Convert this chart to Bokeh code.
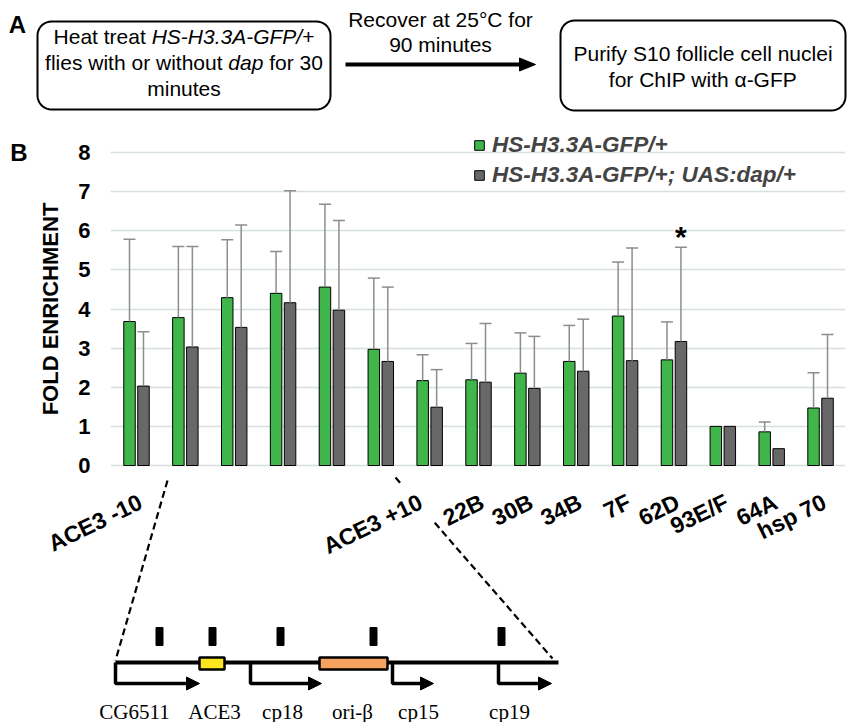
import numpy as np
from bokeh.plotting import figure
from bokeh.models import (ColumnDataSource, Range1d, FixedTicker, Whisker, TeeHead,
                          Legend, LegendItem)
from bokeh.transform import dodge
from bokeh.core.properties import value
from bokeh.embed import file_html
from bokeh.resources import INLINE

# ---------------- data ----------------
tick_labels = ["ACE3 -10", "", "", "", "", "", "ACE3 +10", "22B", "30B", "34B",
               "7F", "62D", "93E/F", "64A", "hsp 70"]
gfp = [3.68, 3.78, 4.29, 4.40, 4.56, 2.97, 2.17, 2.19, 2.36, 2.66, 3.82, 2.70, 1.00, 0.86, 1.47]
gfp_err = [2.10, 1.82, 1.48, 1.07, 2.12, 1.82, 0.66, 0.93, 1.03, 0.92, 1.38, 0.97, 0.00, 0.25, 0.90]
dap = [2.03, 3.03, 3.53, 4.16, 3.97, 2.66, 1.49, 2.13, 1.97, 2.41, 2.68, 3.17, 1.00, 0.43, 1.72]
dap_err = [1.39, 2.57, 2.62, 2.86, 2.29, 1.90, 0.96, 1.50, 1.33, 1.33, 2.88, 2.41, 0.00, 0.00, 1.63]
series_names = ["HS-H3.3A-GFP/+", "HS-H3.3A-GFP/+; UAS:dap/+"]
star_label = "62D"
y_ticks = [0, 1, 2, 3, 4, 5, 6, 7, 8]
y_title = "FOLD ENRICHMENT"
gene_names = ["CG6511", "ACE3", "cp18", "ori-\u03b2", "cp15", "cp19"]

# ---------------- layout / style ----------------
W, H = 850, 722
LB, RB = 110, 5
GRP0, GRP_STEP = 136.0, 48.86   # canvas px of group 1 and spacing
Y0, Y_UNIT = 465.0, 39.125      # canvas px of value 0 and px per unit
fl, fr = LB, W - RB

def kx(r):
    return 1 + (r - GRP0) / GRP_STEP

def vy(r):
    return (Y0 - r) / Y_UNIT

GREEN = "#3fb54a"
GRAY = "#686868"
ERR = "#8d8d8d"
GRID = "#d6e0df"
SANS = "Liberation Sans"
SERIF = "Liberation Serif"

p = figure(width=W, height=H, output_backend="svg", toolbar_location=None,
           x_range=Range1d(kx(fl), kx(fr)), y_range=Range1d(vy(H), vy(0)),
           x_axis_location=None, min_border_left=LB, min_border_right=RB,
           min_border_top=0, min_border_bottom=0)
p.extra_x_ranges = {"px": Range1d(fl, fr)}
p.extra_y_ranges = {"py": Range1d(H, 0)}
p.outline_line_color = None
p.background_fill_color = "white"
p.border_fill_color = "white"
p.xgrid.grid_line_color = None
p.yaxis.ticker = FixedTicker(ticks=y_ticks)
p.ygrid.grid_line_color = GRID
p.ygrid.grid_line_width = 1.5
p.yaxis.axis_line_color = None
p.yaxis.major_tick_line_color = None
p.yaxis.minor_tick_line_color = None
p.yaxis.major_tick_out = 0
p.yaxis.major_label_standoff = 20
p.yaxis.major_label_text_font = SANS
p.yaxis.major_label_text_font_size = "22px"
p.yaxis.major_label_text_font_style = "bold"
p.yaxis.major_label_text_color = "black"

PX = dict(x_range_name="px", y_range_name="py", level="overlay")

# ---------------- bars ----------------
xs = list(range(1, len(tick_labels) + 1))
src = ColumnDataSource(dict(x=xs, gfp=gfp, dap=dap))
OFF, BW = 0.143, 0.235
r1 = p.vbar(x=dodge("x", -OFF), top="gfp", width=BW, source=src,
            fill_color=GREEN, line_color="black", line_width=1)
r2 = p.vbar(x=dodge("x", OFF), top="dap", width=BW, source=src,
            fill_color=GRAY, line_color="black", line_width=1)

wb, wl, wu = [], [], []
for i, x in enumerate(xs):
    if gfp_err[i] > 0:
        wb.append(x - OFF); wl.append(gfp[i]); wu.append(gfp[i] + gfp_err[i])
    if dap_err[i] > 0:
        wb.append(x + OFF); wl.append(dap[i]); wu.append(dap[i] + dap_err[i])
wsrc = ColumnDataSource(dict(base=wb, lower=wl, upper=wu))
p.add_layout(Whisker(base="base", lower="lower", upper="upper", source=wsrc,
                     dimension="height", line_color=ERR, line_width=1.5,
                     upper_head=TeeHead(size=12, line_color=ERR, line_width=1.5),
                     lower_head=None, level="glyph"))

si = tick_labels.index(star_label)
p.text(x=[xs[si] + OFF], y=[dap[si] + dap_err[si]], text=["*"], y_offset=-11,
       text_font=value(SANS), text_font_size="30px", text_font_style="bold",
       text_align="center", text_baseline="middle", text_color="black")

# legend
legend = Legend(items=[LegendItem(label=series_names[0], renderers=[r1]),
                       LegendItem(label=series_names[1], renderers=[r2])],
                location=(473 - fl, H - 187.5),
                label_text_font=SANS, label_text_font_style="bold italic",
                label_text_font_size="22.5px", glyph_width=12, glyph_height=12,
                label_standoff=7, spacing=4, padding=0, margin=0,
                border_line_color=None, background_fill_alpha=0, label_height=20)
p.add_layout(legend)

# category labels (rotated)
lab_dx = {"ACE3 +10": -9}
cx, ctext, cdx = [], [], []
for i, t in enumerate(tick_labels):
    if t:
        cx.append(xs[i]); ctext.append(t); cdx.append(lab_dx.get(t, 4))
p.text(x=cx, y=[vy(500)] * len(cx), text=ctext, x_offset=cdx, angle=0.454,
       text_font=value(SANS), text_font_size="23px", text_font_style="bold",
       text_align="right", text_baseline="middle", text_color="black", level="overlay")

# axis title and panel letters
p.text(x=[50], y=[308.5], text=[y_title], angle=np.pi / 2, text_font=value(SANS),
       text_font_size="22px", text_font_style="bold", text_align="center",
       text_baseline="middle", text_color="black", **PX)
p.text(x=[18.5, 17], y=[151.5, 24], text=["B", "A"], text_font=value(SANS),
       text_font_size="24px", text_font_style="bold", text_align="center",
       text_baseline="middle", text_color="black", **PX)

# ---------------- panel A ----------------
AW = {' ': 278, 'H': 722, 'e': 556, 'a': 556, 't': 278, 'r': 333, 'S': 667, '-': 333,
      '3': 556, '.': 278, 'A': 667, 'G': 778, 'F': 611, 'P': 667, '/': 278, '+': 584,
      'f': 278, 'l': 222, 'i': 222, 's': 500, 'w': 722, 'h': 556, 'o': 556, 'u': 556,
      'd': 556, 'p': 556, '0': 556, 'm': 833, 'n': 556}
FS = 21

def tw(s):
    return sum(AW.get(c, 556) for c in s) * FS / 1000.0

def rrect(x0, y0, x1, y1, r, n=10):
    px_, py_ = [], []
    for (ccx, ccy, a0) in [(x0 + r, y0 + r, np.pi), (x1 - r, y0 + r, 1.5 * np.pi),
                           (x1 - r, y1 - r, 0.0), (x0 + r, y1 - r, 0.5 * np.pi)]:
        t = np.linspace(a0, a0 + np.pi / 2, n)
        px_ += list(ccx + r * np.cos(t)); py_ += list(ccy + r * np.sin(t))
    return px_, py_

for (x0, y0, x1, y1) in [(37, 21, 330, 109), (560, 20, 845, 110)]:
    bx, by = rrect(x0, y0, x1, y1, 14)
    p.patch(bx, by, fill_color="white", line_color="black", line_width=2, **PX)

def rich_line(segs, cxr, yr):
    total = sum(tw(s) for s, _ in segs)
    x = cxr - total / 2
    for s, st in segs:
        lead = len(s) - len(s.lstrip())
        p.text(x=[x + tw(" " * lead)], y=[yr], text=[s.strip()], text_font=value(SANS),
               text_font_size=f"{FS}px", text_font_style=st, text_align="left",
               text_baseline="middle", text_color="black", **PX)
        x += tw(s)

rich_line([("Heat treat ", "normal"), ("HS-H3.3A-GFP/", "italic"), ("+", "normal")], 183.5, 36)
rich_line([("flies with or without ", "normal"), ("dap", "italic"), (" for 30", "normal")], 183.5, 62)
rich_line([("minutes", "normal")], 183.5, 88)
p.text(x=[440, 440, 702.5, 702.5], y=[19, 44, 53, 79],
       text=["Recover at 25\u00b0C for", "90 minutes", "Purify S10 follicle cell nuclei",
             "for ChIP with \u03b1-GFP"],
       text_font=value(SANS), text_font_size=f"{FS}px", text_align="center",
       text_baseline="middle", text_color="black", **PX)
p.line(x=[345, 522], y=[64, 64], line_color="black", line_width=4, **PX)
p.patch(x=[519, 535, 519], y=[57.5, 64, 70.5], fill_color="black", line_color="black", **PX)

# ---------------- gene diagram ----------------
LINE_Y, ARR_Y = 662, 683
p.line(x=[115, 558], y=[LINE_Y, LINE_Y], line_color="black", line_width=4, **PX)
primers = [159, 212, 280, 373, 501]
p.rect(x=primers, y=[636] * 5, width=7, height=18, fill_color="black", line_color="black",
       **PX)
p.quad(left=[199, 319], right=[224, 387], top=[657, 657], bottom=[669, 669],
       fill_color=["#fbe51c", "#f6a35f"], line_color="black", line_width=2.5, **PX)
promoters = [(115, 199), (250, 321), (392, 433), (498, 551)]
p.multi_line(xs=[[a, a, b - 10] for a, b in promoters],
             ys=[[LINE_Y, ARR_Y, ARR_Y] for _ in promoters],
             line_color="black", line_width=3.5, **PX)
p.patches(xs=[[b - 13, b, b - 13] for _, b in promoters],
          ys=[[ARR_Y - 6.5, ARR_Y, ARR_Y + 6.5] for _ in promoters],
          fill_color="black", line_color="black", **PX)
p.text(x=[134, 214, 282, 352, 418, 509], y=[711] * 6, text=gene_names,
       text_font=value(SERIF), text_font_size="21px", text_align="center",
       text_baseline="alphabetic", text_color="black", **PX)

# dashed connectors
P0, P1 = np.array([395.0, 477.0]), np.array([552.0, 658.0])
a, b = P0 + 0.035 * (P1 - P0), P0 + 0.25 * (P1 - P0)
p.multi_line(xs=[[167, 115], [P0[0], a[0]], [b[0], P1[0]]],
             ys=[[480, 660], [P0[1], a[1]], [b[1], P1[1]]],
             line_color="black", line_width=2.2, line_dash="7 4", **PX)

open("out.html", "w").write(file_html(p, INLINE))
